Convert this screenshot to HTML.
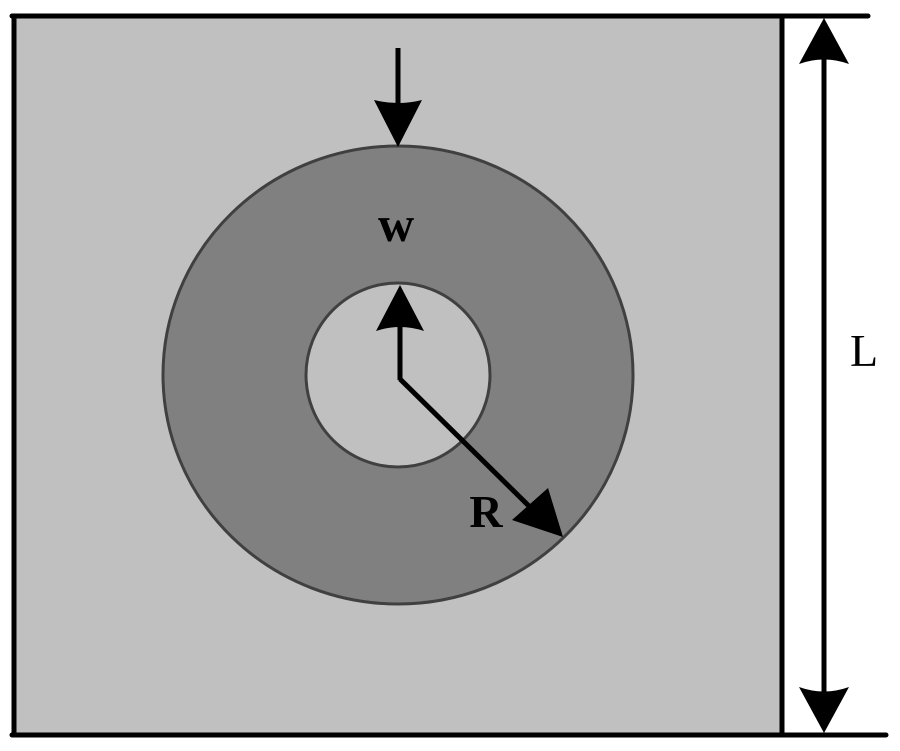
<!DOCTYPE html>
<html><head><meta charset="utf-8"><style>html,body{margin:0;padding:0;background:#fff}svg{display:block}</style></head>
<body>
<svg width="900" height="751" viewBox="0 0 900 751" xmlns="http://www.w3.org/2000/svg">
<rect x="14" y="16" width="768" height="719" fill="#c0c0c0" stroke="#000" stroke-width="5"/>
<line x1="12" y1="16" x2="868" y2="16" stroke="#000" stroke-width="5" stroke-linecap="round"/>
<line x1="12" y1="735" x2="886" y2="735" stroke="#000" stroke-width="5" stroke-linecap="round"/>
<ellipse cx="398" cy="375" rx="235" ry="229" fill="#808080" stroke="#404040" stroke-width="3"/>
<circle cx="398" cy="375" r="92" fill="#c0c0c0" stroke="#404040" stroke-width="3"/>
<line x1="824" y1="50" x2="824" y2="700" stroke="#000" stroke-width="5"/>
<path d="M824 18 L849 64 Q824 55 799 64 Z" fill="#000"/>
<path d="M824 733 L849 687 Q824 696 799 687 Z" fill="#000"/>
<line x1="398" y1="48" x2="398" y2="110" stroke="#000" stroke-width="5"/>
<path d="M398 147 L422 100 Q398 106 374 100 Z" fill="#000"/>
<line x1="400" y1="380" x2="400" y2="320" stroke="#000" stroke-width="5"/>
<path d="M400 285 L424 331 Q400 323 376 331 Z" fill="#000"/>
<line x1="400" y1="379" x2="535" y2="512" stroke="#000" stroke-width="5"/>
<path d="M563 537 L512 520 L548 488 Z" fill="#000"/>
<text x="396" y="241" font-family="Liberation Serif, serif" font-weight="bold" font-size="50" text-anchor="middle">w</text>
<text x="486" y="527" font-family="Liberation Serif, serif" font-weight="bold" font-size="46" text-anchor="middle">R</text>
<text x="864" y="366" font-family="Liberation Serif, serif" font-size="46" text-anchor="middle">L</text>
</svg>
</body></html>
